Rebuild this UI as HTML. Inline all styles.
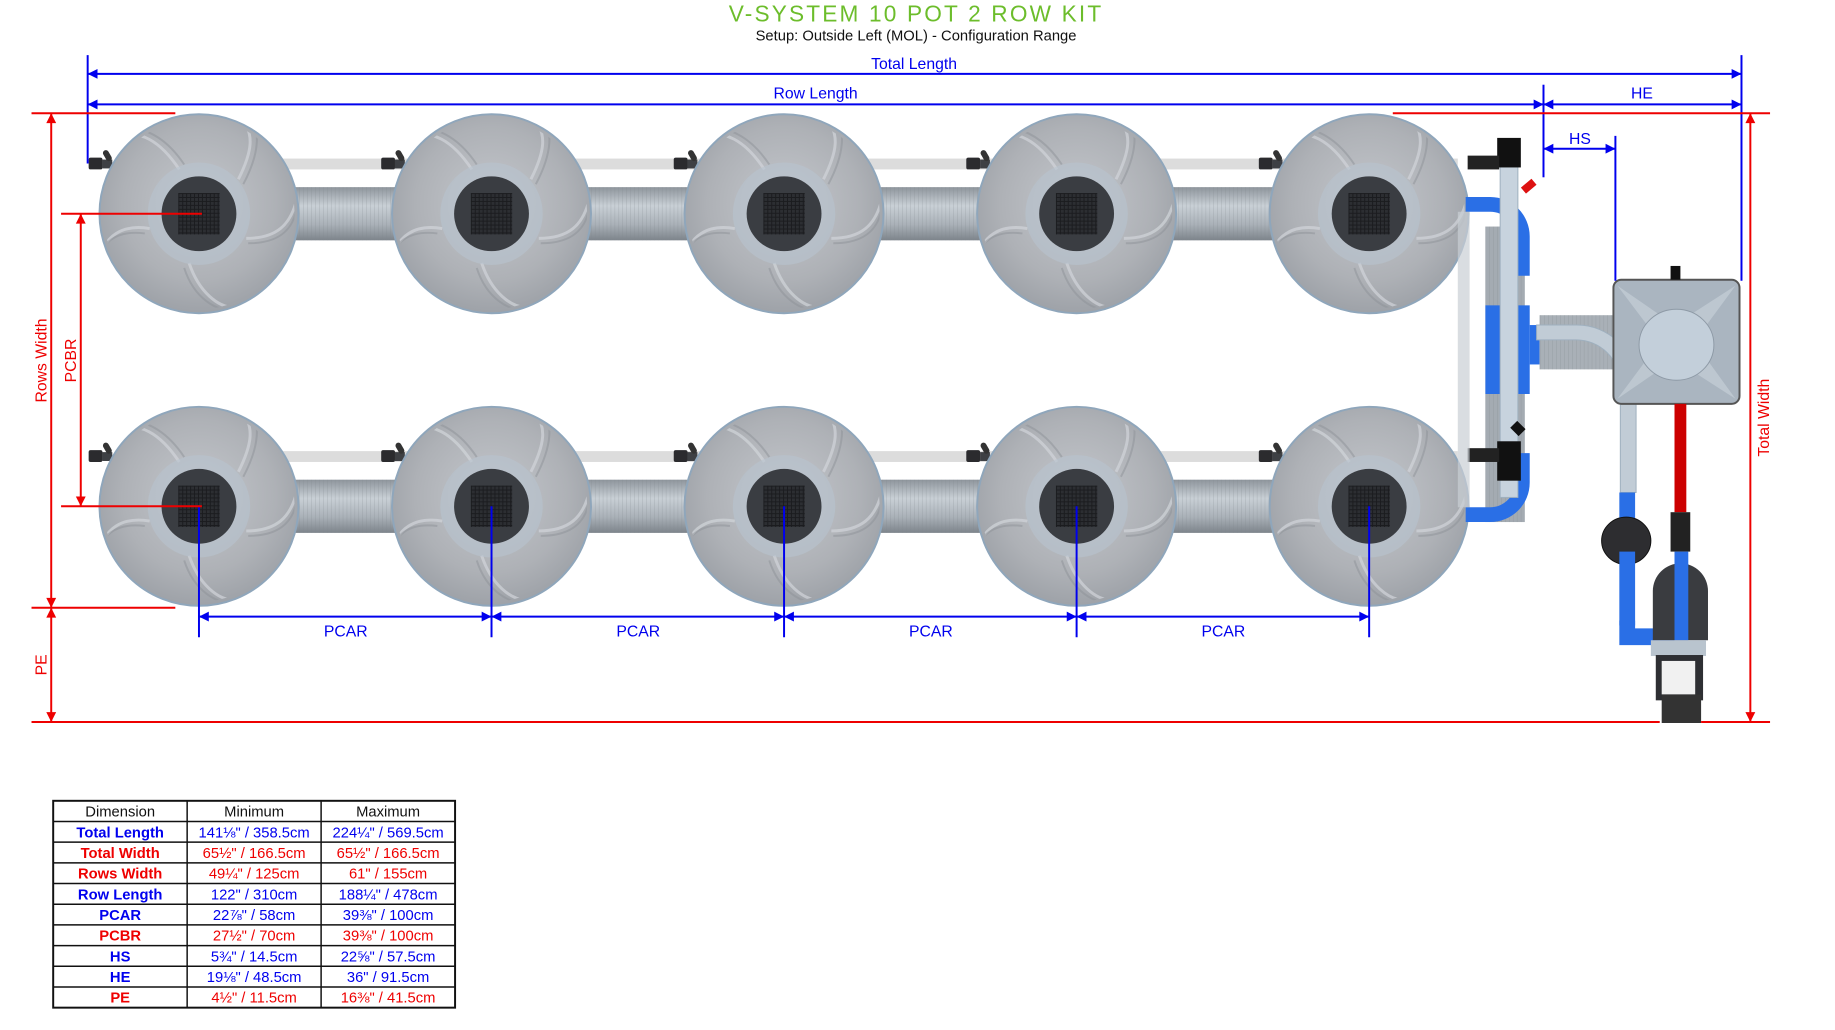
<!DOCTYPE html>
<html><head><meta charset="utf-8"><style>
html,body{margin:0;padding:0;background:#fff;}
svg{display:block;font-family:"Liberation Sans",sans-serif;}
</style></head><body>
<svg width="1835" height="1030" viewBox="0 0 1835 1030" xmlns="http://www.w3.org/2000/svg">
<defs>
<radialGradient id="pot" cx="50%" cy="45%" r="55%">
<stop offset="0" stop-color="#c4c7cc"/><stop offset="0.7" stop-color="#aeb1b6"/><stop offset="1" stop-color="#9ea2a8"/>
</radialGradient>
<linearGradient id="tube" x1="0" y1="0" x2="0" y2="1">
<stop offset="0" stop-color="#8e959c"/><stop offset="0.35" stop-color="#c9d0d6"/><stop offset="0.7" stop-color="#aab1b8"/><stop offset="1" stop-color="#7d848b"/>
</linearGradient>
<pattern id="rib" width="4" height="10" patternUnits="userSpaceOnUse"><rect width="4" height="10" fill="none"/><line x1="0" y1="0" x2="0" y2="10" stroke="#7f868d" stroke-width="0.8" opacity="0.5"/></pattern>
<pattern id="grid" width="4" height="4" patternUnits="userSpaceOnUse"><rect width="4" height="4" fill="#1b1c1f"/><rect width="3" height="3" fill="#2c2e32"/></pattern>
<clipPath id="pc"><circle r="97"/></clipPath>
<g id="p">
<circle r="101" fill="url(#pot)" stroke="#8fa6bb" stroke-width="2"/>
<g clip-path="url(#pc)">
<g fill="none" stroke="#d2d5da" stroke-width="3" opacity="0.7">
<path d="M-20,-45 C-40,-75 -60,-85 -85,-80"/>
<path d="M40,-35 C55,-65 55,-80 45,-95"/>
<path d="M48,25 C80,25 92,10 98,-10"/>
<path d="M-10,50 C0,80 20,95 35,95"/>
<path d="M-50,15 C-80,10 -95,25 -98,40"/>
</g>
<g fill="none" stroke="#8d9298" stroke-width="2" opacity="0.5">
<path d="M-15,-50 C-35,-80 -60,-92 -90,-86"/>
<path d="M45,-30 C62,-62 62,-85 52,-98"/>
<path d="M50,30 C84,30 98,14 100,-12"/>
<path d="M-15,55 C-5,86 18,100 38,98"/>
<path d="M-55,20 C-86,16 -100,32 -100,46"/>
</g>
</g>
<circle r="52" fill="#b8c3ce" opacity="0.6"/>
<circle r="38" fill="#3a3d42"/>
<rect x="-21" y="-21" width="42" height="42" fill="url(#grid)"/>
</g>
<g id="fit"><rect x="-8" y="-6" width="14" height="12" fill="#2b2b2e" rx="2"/><rect x="6" y="-4" width="10" height="9" fill="#3e4044"/><rect x="8" y="-14" width="6" height="12" fill="#333" rx="3" transform="rotate(-30 11 -8)"/></g>
</defs>

<g transform="scale(0.985)">
<text x="930" y="22" text-anchor="middle" font-size="23" fill="#6cbd2b" letter-spacing="2.2">V-SYSTEM 10 POT 2 ROW KIT</text>
<text x="930" y="41" text-anchor="middle" font-size="15" fill="#111">Setup: Outside Left (MOL) - Configuration Range</text>

<g>
<rect x="180" y="161" width="1300" height="11" fill="#dcdcdc"/>
<rect x="180" y="458" width="1300" height="11" fill="#dcdcdc"/>
<rect x="290" y="190" width="1110" height="54" fill="url(#tube)"/>
<rect x="290" y="190" width="1110" height="54" fill="url(#rib)"/>
<rect x="290" y="487" width="1110" height="54" fill="url(#tube)"/>
<rect x="290" y="487" width="1110" height="54" fill="url(#rib)"/>
</g>
<g>
<use href="#fit" x="98" y="166"/><use href="#fit" x="395" y="166"/><use href="#fit" x="692" y="166"/><use href="#fit" x="989" y="166"/><use href="#fit" x="1286" y="166"/>
<use href="#fit" x="98" y="463"/><use href="#fit" x="395" y="463"/><use href="#fit" x="692" y="463"/><use href="#fit" x="989" y="463"/><use href="#fit" x="1286" y="463"/>
</g>
<use href="#p" x="202" y="217"/><use href="#p" x="499" y="217"/><use href="#p" x="796" y="217"/><use href="#p" x="1093" y="217"/><use href="#p" x="1390" y="217"/>
<use href="#p" x="202" y="514"/><use href="#p" x="499" y="514"/><use href="#p" x="796" y="514"/><use href="#p" x="1093" y="514"/><use href="#p" x="1390" y="514"/>

<g>
<rect x="1508" y="230" width="40" height="300" fill="#a4abb2"/>
<rect x="1508" y="230" width="40" height="300" fill="url(#rib)"/>
<path d="M1488,200 h25 a40,40 0 0 1 40,40 v40 h-15 v-40 a25,25 0 0 0 -25,-25 h-25z" fill="#2a6fe6"/>
<path d="M1488,530 h25 a40,40 0 0 0 40,-40 v-30 h-15 v30 a25,25 0 0 1 -25,25 h-25z" fill="#2a6fe6"/>
<rect x="1508" y="310" width="45" height="90" fill="#2a6fe6"/>
<rect x="1553" y="330" width="10" height="40" fill="#2a6fe6"/>
<rect x="1523" y="145" width="18" height="360" fill="#c7d3de" stroke="#9fb0bf"/>
<rect x="1520" y="140" width="24" height="30" fill="#111"/>
<rect x="1520" y="448" width="24" height="40" fill="#111"/>
<rect x="1490" y="158" width="32" height="14" fill="#222"/>
<rect x="1490" y="455" width="32" height="14" fill="#222"/>
<rect x="1545" y="185" width="14" height="8" fill="#d11" transform="rotate(-40 1552 189)"/>
<rect x="1535" y="430" width="12" height="10" fill="#111" transform="rotate(45 1541 435)"/>
<rect x="1563" y="320" width="77" height="55" fill="#a9b0b7"/>
<rect x="1563" y="320" width="77" height="55" fill="url(#rib)"/>
<path d="M1560,345 h40 a45,45 0 0 1 45,45 v110 h16 v-110 a60,60 0 0 0 -60,-60 h-41z" fill="#c1ccd6" stroke="#9fb0bf"/>
<rect x="1480" y="215" width="12" height="300" fill="#c9cfd4" opacity="0.7"/>
</g>
<g>
<rect x="1638" y="284" width="128" height="126" rx="8" fill="#aab5c0" stroke="#555" stroke-width="2"/>
<path d="M1642,290 L1700,330 L1762,290 L1720,347 L1762,405 L1700,365 L1642,405 L1685,347Z" fill="#c4ced7" opacity="0.7"/>
<ellipse cx="1702" cy="350" rx="38" ry="36" fill="#c3cfda" stroke="#8e9aa6"/>
<rect x="1696" y="270" width="10" height="14" fill="#111"/>
</g>
<g>
<rect x="1644" y="500" width="16" height="45" fill="#2a6fe6"/>
<ellipse cx="1651" cy="549" rx="25" ry="24" fill="#2d2d30" stroke="#111"/>
<rect x="1644" y="560" width="16" height="75" fill="#2a6fe6"/>
<path d="M1644,630 h16 v8 h40 v17 h-56z" fill="#2a6fe6"/>
<rect x="1700" y="410" width="12" height="110" fill="#cc0000"/>
<rect x="1696" y="520" width="20" height="40" fill="#222"/>
<path d="M1678,600 a28,28 0 0 1 56,0 v50 h-56z" fill="#3a3c40"/>
<rect x="1700" y="560" width="14" height="90" fill="#2a6fe6"/>
<rect x="1676" y="650" width="56" height="16" fill="#b9c4ce"/>
<rect x="1681" y="665" width="48" height="46" fill="#2e2f33"/>
<rect x="1687" y="671" width="34" height="34" fill="#f1f1f1"/>
<rect x="1687" y="705" width="40" height="29" fill="#333"/>
</g>

<g stroke="#0000ee" stroke-width="2" fill="none">
<line x1="89" y1="56" x2="89" y2="166"/>
<line x1="1768" y1="56" x2="1768" y2="285"/>
<line x1="89" y1="75" x2="1768" y2="75"/>
<line x1="89" y1="106" x2="1567" y2="106"/>
<line x1="1567" y1="106" x2="1768" y2="106"/>
<line x1="1567" y1="86" x2="1567" y2="180"/>
<line x1="1567" y1="151" x2="1640" y2="151"/>
<line x1="1640" y1="138" x2="1640" y2="285"/>
<line x1="202" y1="514" x2="202" y2="647"/>
<line x1="499" y1="514" x2="499" y2="647"/>
<line x1="796" y1="514" x2="796" y2="647"/>
<line x1="1093" y1="514" x2="1093" y2="647"/>
<line x1="1390" y1="514" x2="1390" y2="647"/>
<line x1="202" y1="626" x2="1390" y2="626"/>
</g>
<g fill="#0000ee">
<path d="M89,75 l10,-5 v10z"/><path d="M1768,75 l-10,-5 v10z"/>
<path d="M89,106 l10,-5 v10z"/><path d="M1567,106 l-10,-5 v10z"/>
<path d="M1567,106 l10,-5 v10z"/><path d="M1768,106 l-10,-5 v10z"/>
<path d="M1567,151 l10,-5 v10z"/><path d="M1640,151 l-10,-5 v10z"/>
<path d="M202,626 l10,-5 v10z"/><path d="M499,626 l-10,-5 v10z"/>
<path d="M499,626 l10,-5 v10z"/><path d="M796,626 l-10,-5 v10z"/>
<path d="M796,626 l10,-5 v10z"/><path d="M1093,626 l-10,-5 v10z"/>
<path d="M1093,626 l10,-5 v10z"/><path d="M1390,626 l-10,-5 v10z"/>
</g>
<g fill="#0000ee" font-size="16" text-anchor="middle">
<text x="928" y="70">Total Length</text>
<text x="828" y="100">Row Length</text>
<text x="1667" y="100">HE</text>
<text x="1604" y="146">HS</text>
<text x="351" y="646">PCAR</text>
<text x="648" y="646">PCAR</text>
<text x="945" y="646">PCAR</text>
<text x="1242" y="646">PCAR</text>
</g>

<g stroke="#ee0000" stroke-width="2" fill="none">
<line x1="32" y1="115" x2="178" y2="115"/>
<line x1="1414" y1="115" x2="1797" y2="115"/>
<line x1="32" y1="617" x2="178" y2="617"/>
<line x1="32" y1="733" x2="1685" y2="733"/>
<line x1="1727" y1="733" x2="1797" y2="733"/>
<line x1="52" y1="115" x2="52" y2="617"/>
<line x1="52" y1="617" x2="52" y2="733"/>
<line x1="82" y1="217" x2="82" y2="514"/>
<line x1="62" y1="217" x2="205" y2="217"/>
<line x1="62" y1="514" x2="205" y2="514"/>
<line x1="1777" y1="115" x2="1777" y2="733"/>
</g>
<g fill="#ee0000">
<path d="M52,115 l-5,10 h10z"/><path d="M52,617 l-5,-10 h10z"/>
<path d="M52,617 l-5,10 h10z"/><path d="M52,733 l-5,-10 h10z"/>
<path d="M82,217 l-5,10 h10z"/><path d="M82,514 l-5,-10 h10z"/>
<path d="M1777,115 l-5,10 h10z"/><path d="M1777,733 l-5,-10 h10z"/>
</g>
<g fill="#ee0000" font-size="16" text-anchor="middle">
<text transform="translate(47,366) rotate(-90)">Rows Width</text>
<text transform="translate(77,366) rotate(-90)">PCBR</text>
<text transform="translate(47,675) rotate(-90)">PE</text>
<text transform="translate(1796,424) rotate(-90)">Total Width</text>
</g>

<g font-size="15" text-anchor="middle">
<rect x="54" y="813" width="408" height="210" fill="#fff" stroke="#111" stroke-width="2"/>
<g stroke="#111" stroke-width="1.5">
<line x1="190" y1="813" x2="190" y2="1023"/><line x1="326" y1="813" x2="326" y2="1023"/>
<line x1="54" y1="834" x2="462" y2="834"/><line x1="54" y1="855" x2="462" y2="855"/>
<line x1="54" y1="876" x2="462" y2="876"/><line x1="54" y1="897" x2="462" y2="897"/>
<line x1="54" y1="918" x2="462" y2="918"/><line x1="54" y1="939" x2="462" y2="939"/>
<line x1="54" y1="960" x2="462" y2="960"/><line x1="54" y1="981" x2="462" y2="981"/>
<line x1="54" y1="1002" x2="462" y2="1002"/>
</g>
<g fill="#111"><text x="122" y="829">Dimension</text><text x="258" y="829">Minimum</text><text x="394" y="829">Maximum</text></g>
<g font-weight="bold">
<text x="122" y="850" fill="#0000ee">Total Length</text>
<text x="122" y="871" fill="#ee0000">Total Width</text>
<text x="122" y="892" fill="#ee0000">Rows Width</text>
<text x="122" y="913" fill="#0000ee">Row Length</text>
<text x="122" y="934" fill="#0000ee">PCAR</text>
<text x="122" y="955" fill="#ee0000">PCBR</text>
<text x="122" y="976" fill="#0000ee">HS</text>
<text x="122" y="997" fill="#0000ee">HE</text>
<text x="122" y="1018" fill="#ee0000">PE</text>
</g>
<g>
<text x="258" y="850" fill="#0000ee">141⅛" / 358.5cm</text><text x="394" y="850" fill="#0000ee">224¼" / 569.5cm</text>
<text x="258" y="871" fill="#ee0000">65½" / 166.5cm</text><text x="394" y="871" fill="#ee0000">65½" / 166.5cm</text>
<text x="258" y="892" fill="#ee0000">49¼" / 125cm</text><text x="394" y="892" fill="#ee0000">61" / 155cm</text>
<text x="258" y="913" fill="#0000ee">122" / 310cm</text><text x="394" y="913" fill="#0000ee">188¼" / 478cm</text>
<text x="258" y="934" fill="#0000ee">22⅞" / 58cm</text><text x="394" y="934" fill="#0000ee">39⅜" / 100cm</text>
<text x="258" y="955" fill="#ee0000">27½" / 70cm</text><text x="394" y="955" fill="#ee0000">39⅜" / 100cm</text>
<text x="258" y="976" fill="#0000ee">5¾" / 14.5cm</text><text x="394" y="976" fill="#0000ee">22⅝" / 57.5cm</text>
<text x="258" y="997" fill="#0000ee">19⅛" / 48.5cm</text><text x="394" y="997" fill="#0000ee">36" / 91.5cm</text>
<text x="258" y="1018" fill="#ee0000">4½" / 11.5cm</text><text x="394" y="1018" fill="#ee0000">16⅜" / 41.5cm</text>
</g>
</g>
</g>
</svg>
</body></html>
